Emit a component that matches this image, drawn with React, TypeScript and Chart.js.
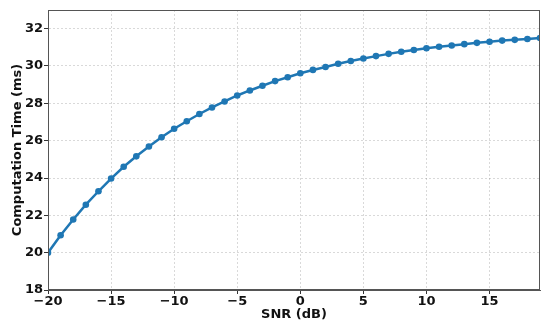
import React, { useEffect, useRef } from "react";
import { Chart, registerables } from "chart.js";

Chart.register(...registerables);

const snr = [-20, -19, -18, -17, -16, -15, -14, -13, -12, -11, -10, -9, -8, -7, -6, -5, -4, -3, -2, -1, 0, 1, 2, 3, 4, 5, 6, 7, 8, 9, 10, 11, 12, 13, 14, 15, 16, 17, 18, 19];
const timeMs = [20.0, 20.93, 21.78, 22.57, 23.29, 23.97, 24.6, 25.16, 25.69, 26.18, 26.64, 27.04, 27.43, 27.78, 28.1, 28.42, 28.69, 28.94, 29.19, 29.4, 29.61, 29.79, 29.95, 30.12, 30.27, 30.4, 30.53, 30.65, 30.76, 30.86, 30.95, 31.03, 31.1, 31.17, 31.24, 31.3, 31.36, 31.4, 31.45, 31.5];
const xTicks = [-20, -15, -10, -5, 0, 5, 10, 15];
const yTicks = [18, 20, 22, 24, 26, 28, 30, 32];

const fmt = (v: number) => String(v).replace("-", "\u2212");

const framePlugin = {
  id: "frame",
  afterDraw(chart: any) {
    const { ctx, chartArea } = chart;
    ctx.save();
    ctx.strokeStyle = "#555";
    ctx.lineWidth = 1;
    ctx.strokeRect(chartArea.left + 0.5, chartArea.top + 0.5, chartArea.right - chartArea.left - 1, chartArea.bottom - chartArea.top - 1);
    ctx.restore();
  },
};

export default function App() {
  const ref = useRef<HTMLCanvasElement>(null);
  useEffect(() => {
    document.body.style.margin = "0";
    const font = { family: "DejaVu Sans", size: 13, weight: "bold" as const };
    const chart = new Chart(ref.current!, {
      type: "line",
      data: {
        datasets: [
          {
            data: snr.map((x, i) => ({ x, y: timeMs[i] })),
            borderColor: "#1f77b4",
            backgroundColor: "#1f77b4",
            borderWidth: 2.5,
            pointRadius: 3.3,
            pointHoverRadius: 3.3,
            pointBorderWidth: 0,
            tension: 0,
          },
        ],
      },
      options: {
        animation: false,
        responsive: false,
        layout: { padding: { left: 10, top: 10, right: 10, bottom: 5 } },
        plugins: { legend: { display: false }, tooltip: { enabled: false } },
        scales: {
          x: {
            type: "linear",
            min: -20,
            max: 19,
            afterBuildTicks: (s: any) => { s.ticks = xTicks.map((v) => ({ value: v })); },
            afterFit: (s: any) => { s.height = 32; },
            ticks: { font, color: "#111", padding: 0, maxRotation: 0, callback: (v: any) => fmt(v) },
            grid: { color: "rgba(0,0,0,0.15)", tickColor: "#333", tickLength: 4, drawOnChartArea: true },
            border: { display: true, color: "#555", dash: [2, 2] },
            title: { display: true, text: "SNR (dB)", font, color: "#111", padding: { top: 0, bottom: 0 } },
          },
          y: {
            type: "linear",
            min: 18,
            max: 33,
            afterBuildTicks: (s: any) => { s.ticks = yTicks.map((v) => ({ value: v })); },
            afterFit: (s: any) => { s.width = 38; },
            ticks: { font, color: "#111", padding: 1, callback: (v: any) => fmt(v) },
            grid: { color: "rgba(0,0,0,0.15)", tickColor: "#333", tickLength: 4 },
            border: { display: true, color: "#555", dash: [2, 2] },
            title: { display: true, text: "Computation Time (ms)", font, color: "#111", padding: { top: 0, bottom: 2 } },
          },
        },
      },
      plugins: [framePlugin],
    });
    return () => chart.destroy();
  }, []);
  return <canvas ref={ref} width={550} height={327} style={{ display: "block" }} />;
}
